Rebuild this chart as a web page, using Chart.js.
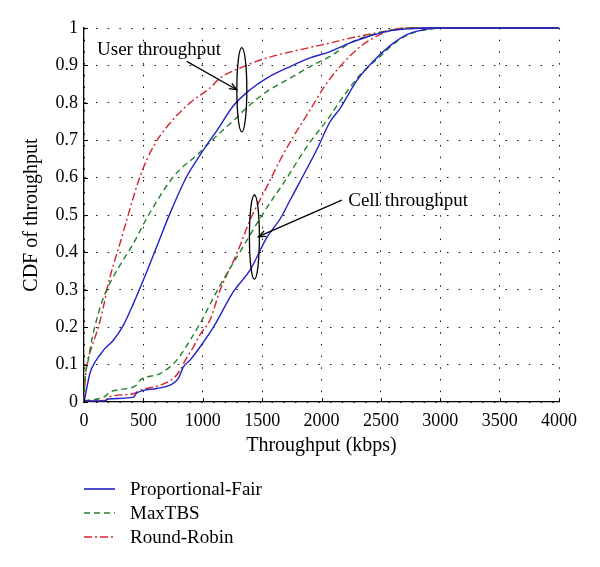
<!DOCTYPE html>
<html>
<head>
<meta charset="utf-8">
<script src="https://cdn.jsdelivr.net/npm/chart.js@4.4.1/dist/chart.umd.min.js"></script>
<style>
    html, body { margin: 0; padding: 0; background: #fff; }
    #wrap { width: 600px; height: 567px; position: relative; }
</style>
</head>
<body>
<div id="wrap"><canvas id="cdfChart"></canvas></div>
<script>
const seriesNames = ['Proportional-Fair', 'MaxTBS', 'Round-Robin'];
const xTickLabels = ['0', '500', '1000', '1500', '2000', '2500', '3000', '3500', '4000'];
const yTickLabels = ['0', '0.1', '0.2', '0.3', '0.4', '0.5', '0.6', '0.7', '0.8', '0.9', '1'];

// user throughput CDFs
const pfUserX = [0, 17, 50, 93, 163, 247, 331, 416, 500, 612, 725, 865, 950, 1062, 1118, 1258, 1399, 1540, 1736, 1904, 2073, 2241, 2382, 2551, 2747, 2900, 4000];
const pfUserY = [0, 0.027, 0.077, 0.107, 0.138, 0.165, 0.205, 0.263, 0.326, 0.415, 0.505, 0.603, 0.647, 0.70, 0.725, 0.792, 0.835, 0.866, 0.897, 0.92, 0.937, 0.96, 0.976, 0.991, 0.998, 1, 1];

const maxUserX = [0, 8, 36, 65, 121, 177, 247, 331, 416, 528, 669, 739, 809, 950, 1062, 1118, 1258, 1399, 1540, 1736, 1904, 2073, 2241, 2382, 2551, 2720, 2900, 4000];
const maxUserY = [0, 0.058, 0.112, 0.165, 0.237, 0.29, 0.335, 0.38, 0.424, 0.491, 0.565, 0.597, 0.622, 0.66, 0.695, 0.712, 0.752, 0.795, 0.83, 0.866, 0.897, 0.924, 0.96, 0.978, 0.992, 0.999, 1, 1];

const rrUserX = [0, 6, 22, 65, 121, 163, 205, 247, 303, 360, 472, 584, 725, 893, 1062, 1146, 1343, 1540, 1820, 2073, 2241, 2466, 2607, 2700, 4000];
const rrUserY = [0, 0.04, 0.094, 0.147, 0.2, 0.254, 0.317, 0.366, 0.424, 0.487, 0.603, 0.683, 0.746, 0.8, 0.84, 0.866, 0.897, 0.92, 0.942, 0.96, 0.973, 0.987, 0.996, 1, 1];

// cell throughput CDFs
const pfCellX = [0, 177, 205, 416, 444, 612, 725, 795, 837, 893, 977, 1090, 1258, 1399, 1540, 1652, 1736, 1820, 1961, 2073, 2157, 2213, 2298, 2438, 2579, 2719, 2888, 3000, 4000];
const pfCellY = [0.003, 0.003, 0.008, 0.013, 0.024, 0.036, 0.045, 0.063, 0.094, 0.112, 0.147, 0.2, 0.295, 0.353, 0.44, 0.49, 0.54, 0.59, 0.675, 0.75, 0.785, 0.815, 0.86, 0.912, 0.953, 0.982, 0.997, 1, 1];

const maxCellX = [0, 177, 219, 444, 472, 640, 781, 893, 977, 1146, 1315, 1483, 1582, 1680, 1877, 2073, 2157, 2326, 2494, 2635, 2775, 2916, 3000, 4000];
const maxCellY = [0.003, 0.015, 0.027, 0.045, 0.058, 0.076, 0.112, 0.165, 0.21, 0.312, 0.402, 0.491, 0.54, 0.585, 0.683, 0.765, 0.805, 0.875, 0.924, 0.964, 0.988, 0.997, 1, 1];

const rrCellX = [0, 177, 205, 416, 472, 640, 753, 809, 850, 921, 977, 1062, 1146, 1287, 1399, 1540, 1652, 1764, 1904, 2017, 2150, 2326, 2466, 2600, 2750, 4000];
const rrCellY = [0.003, 0.004, 0.013, 0.022, 0.031, 0.045, 0.063, 0.085, 0.11, 0.147, 0.18, 0.22, 0.299, 0.397, 0.487, 0.576, 0.647, 0.71, 0.781, 0.84, 0.895, 0.95, 0.978, 0.995, 1, 1];

const SERIF = "'Liberation Serif', 'Times New Roman', serif";
const styles = [
    { color: '#2020c8', dash: [] },
    { color: '#23802a', dash: [6, 4] },
    { color: '#d2232f', dash: [8, 3, 2, 3] },
];

function pts(xs, ys) {
    return xs.map((x, i) => ({ x, y: ys[i] }));
}

function lineSet(label, xs, ys, idx) {
    return {
        label,
        data: pts(xs, ys),
        borderColor: styles[idx].color,
        borderDash: styles[idx].dash,
        borderWidth: 1.4,
        pointRadius: 0,
        fill: false,
        cubicInterpolationMode: 'monotone',
        clip: false,
    };
}

// annotation placement, in data units
const userNote = { text: 'User throughput', x: 110, y: 0.927, ex: 1329, ey: 0.835, ax0: 865, ay0: 0.9106, ax1: 1287, ay1: 0.835 };
const cellNote = { text: 'Cell throughput', x: 2225, y: 0.524, ex: 1435, ey: 0.441, ax0: 2171, ay0: 0.540, ax1: 1469, ay1: 0.442 };

function drawArrow(ctx, x0, y0, x1, y1) {
    ctx.beginPath();
    ctx.moveTo(x0, y0);
    ctx.lineTo(x1, y1);
    ctx.stroke();
    const ang = Math.atan2(y1 - y0, x1 - x0);
    const len = 8, spread = 0.38;
    ctx.beginPath();
    ctx.moveTo(x1 - len * Math.cos(ang - spread), y1 - len * Math.sin(ang - spread));
    ctx.lineTo(x1, y1);
    ctx.lineTo(x1 - len * Math.cos(ang + spread), y1 - len * Math.sin(ang + spread));
    ctx.stroke();
}

const overlay = {
    id: 'overlay',
    afterDraw(chart) {
        const { ctx, chartArea: area, scales: { x, y } } = chart;
        ctx.save();
        ctx.strokeStyle = '#000';
        ctx.fillStyle = '#000';
        ctx.lineWidth = 1;
        ctx.setLineDash([]);

        // inward tick marks
        x.ticks.forEach((t) => {
            const px = Math.round(x.getPixelForValue(t.value)) + 0.5;
            ctx.beginPath();
            ctx.moveTo(px, area.bottom);
            ctx.lineTo(px, area.bottom - 4);
            ctx.stroke();
        });
        y.ticks.forEach((t) => {
            const py = Math.round(y.getPixelForValue(t.value)) + 0.5;
            ctx.beginPath();
            ctx.moveTo(area.left, py);
            ctx.lineTo(area.left + 4, py);
            ctx.stroke();
        });

        // annotations
        ctx.lineWidth = 1.3;
        [userNote, cellNote].forEach((n) => {
            const cx = x.getPixelForValue(n.ex);
            const cy = y.getPixelForValue(n.ey);
            const rx = x.getPixelForValue(n.ex + 42) - cx;
            const ry = cy - y.getPixelForValue(n.ey + 0.1125);
            ctx.beginPath();
            ctx.ellipse(cx, cy, rx, ry, 0, 0, Math.PI * 2);
            ctx.stroke();
            drawArrow(ctx, x.getPixelForValue(n.ax0), y.getPixelForValue(n.ay0),
                x.getPixelForValue(n.ax1), y.getPixelForValue(n.ay1));
            ctx.font = `19px ${SERIF}`;
            ctx.textAlign = 'left';
            ctx.textBaseline = 'alphabetic';
            ctx.fillText(n.text, x.getPixelForValue(n.x), y.getPixelForValue(n.y));
        });

        // vertical legend under the axes
        const legendSets = chart.data.datasets.filter((d) => d.label);
        legendSets.forEach((d, i) => {
            const ly = 489 + i * 24;
            ctx.strokeStyle = d.borderColor;
            ctx.lineWidth = 1.6;
            ctx.setLineDash(d.borderDash);
            ctx.beginPath();
            ctx.moveTo(area.left, ly);
            ctx.lineTo(area.left + 31, ly);
            ctx.stroke();
            ctx.setLineDash([]);
            ctx.fillStyle = '#000';
            ctx.font = `19px ${SERIF}`;
            ctx.textBaseline = 'alphabetic';
            ctx.fillText(d.label, area.left + 46, ly + 6);
        });
        ctx.restore();
    },
};

const gridDots = { color: '#111', lineWidth: 1, drawTicks: false };
const axisBorder = { display: true, color: '#000', width: 1.3, dash: [1.5, 10.2] };

new Chart(document.getElementById('cdfChart').getContext('2d'), {
    type: 'line',
    data: {
        datasets: [
            lineSet(seriesNames[0], pfUserX, pfUserY, 0),
            lineSet(seriesNames[1], maxUserX, maxUserY, 1),
            lineSet(seriesNames[2], rrUserX, rrUserY, 2),
            lineSet('', pfCellX, pfCellY, 0),
            lineSet('', maxCellX, maxCellY, 1),
            lineSet('', rrCellX, rrCellY, 2),
        ],
    },
    options: {
        responsive: true,
        maintainAspectRatio: false,
        animation: false,
        devicePixelRatio: 1,
        layout: { padding: { top: 28, right: 41, bottom: 105, left: 0 } },
        plugins: {
            legend: { display: false },
            tooltip: { enabled: false },
        },
        scales: {
            x: {
                type: 'linear',
                min: 0,
                max: 4000,
                afterFit: (s) => { s.height = 60; },
                grid: gridDots,
                border: axisBorder,
                ticks: {
                    stepSize: 500,
                    padding: 8,
                    color: '#000',
                    maxRotation: 0,
                    font: { family: SERIF, size: 18 },
                    callback: (v, i) => xTickLabels[i],
                },
                title: {
                    display: true,
                    text: 'Throughput (kbps)',
                    color: '#000',
                    font: { family: SERIF, size: 20 },
                    padding: { top: 0, bottom: 4 },
                },
            },
            y: {
                min: 0,
                max: 1,
                afterFit: (s) => { s.width = 84; },
                grid: gridDots,
                border: axisBorder,
                ticks: {
                    stepSize: 0.1,
                    padding: 6,
                    color: '#000',
                    font: { family: SERIF, size: 18 },
                    callback: (v, i) => yTickLabels[i],
                },
                title: {
                    display: true,
                    text: 'CDF of throughput',
                    color: '#000',
                    font: { family: SERIF, size: 20 },
                    padding: { top: 20, bottom: 0 },
                },
            },
        },
    },
    plugins: [overlay],
});
</script>
</body>
</html>
